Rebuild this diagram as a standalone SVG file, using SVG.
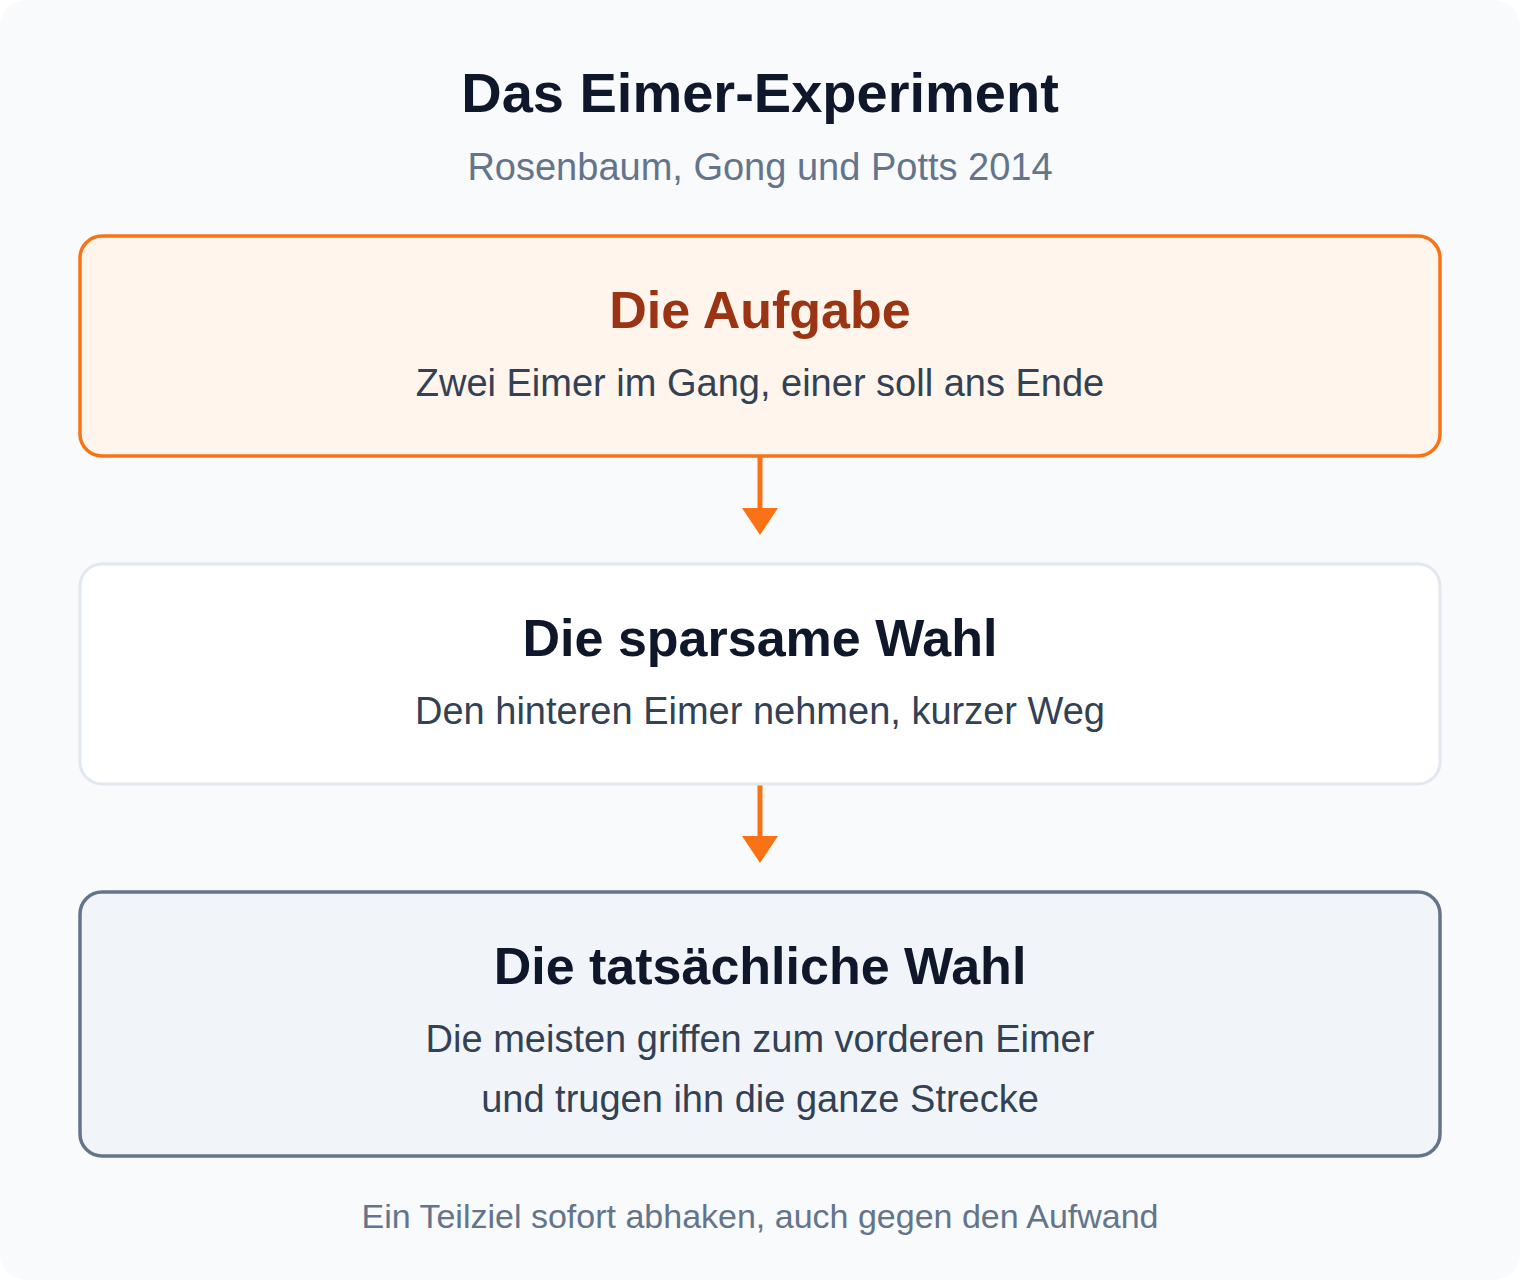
<svg xmlns="http://www.w3.org/2000/svg" width="1520" height="1280" viewBox="0 0 1520 1280">
<defs>
<style>
.t{font-family:"Liberation Sans",Arial,sans-serif;text-anchor:middle}
.h{font-weight:bold;font-size:52px;fill:#0f172a}
.s{font-size:38px;fill:#334155}
.m{font-size:38px;fill:#64748b}
</style>
</defs>
<rect x="0" y="0" width="1520" height="1280" fill="#ffffff"/>
<rect x="0" y="0" width="1520" height="1280" rx="26" fill="#f8fafc"/>
<text class="t h" x="760" y="112" style="font-size:56px">Das Eimer-Experiment</text>
<text class="t m" x="760" y="180">Rosenbaum, Gong und Potts 2014</text>
<g id="connectors">
<line x1="760" y1="456" x2="760" y2="510" stroke="#f97316" stroke-width="5"/>
<polygon points="742,508 778,508 760,535" fill="#f97316"/>
<line x1="760" y1="784" x2="760" y2="838" stroke="#f97316" stroke-width="5"/>
<polygon points="742,836 778,836 760,863" fill="#f97316"/>
</g>
<g id="node-aufgabe">
<rect x="80" y="236" width="1360" height="220" rx="22" fill="#fff5ec" stroke="#f97316" stroke-width="3.5"/>
<text class="t h" x="760" y="328" style="fill:#9a3412">Die Aufgabe</text>
<text class="t s" x="760" y="396">Zwei Eimer im Gang, einer soll ans Ende</text>
</g>
<g id="node-sparsam">
<rect x="80" y="564" width="1360" height="220" rx="22" fill="#ffffff" stroke="#e2e8f0" stroke-width="3"/>
<text class="t h" x="760" y="656">Die sparsame Wahl</text>
<text class="t s" x="760" y="724">Den hinteren Eimer nehmen, kurzer Weg</text>
</g>
<g id="node-tatsaechlich">
<rect x="80" y="892" width="1360" height="264" rx="22" fill="#f1f5f9" stroke="#64748b" stroke-width="3.5"/>
<text class="t h" x="760" y="984">Die tatsächliche Wahl</text>
<text class="t s" x="760" y="1052">Die meisten griffen zum vorderen Eimer</text>
<text class="t s" x="760" y="1112">und trugen ihn die ganze Strecke</text>
</g>
<text class="t m" x="760" y="1228" style="font-size:34px">Ein Teilziel sofort abhaken, auch gegen den Aufwand</text>
</svg>
